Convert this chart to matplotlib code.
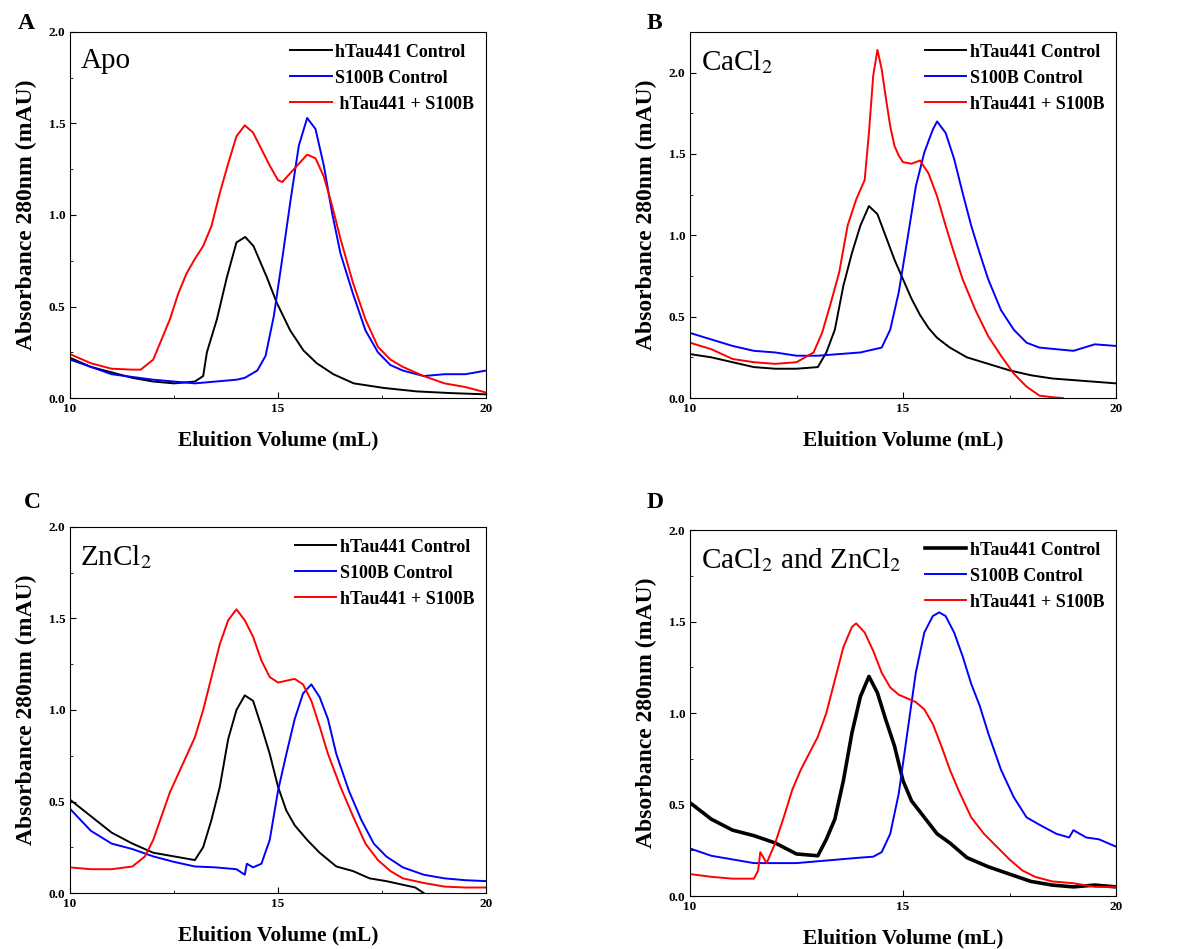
import numpy as np
import matplotlib
matplotlib.use("Agg")
from matplotlib import pyplot as plt
from matplotlib.ticker import MultipleLocator

plt.rcParams["font.family"] = ["Liberation Serif", "DejaVu Serif"]
plt.rcParams["mathtext.fontset"] = "stix"

labels = ["hTau441 Control", "S100B Control", "hTau441 + S100B"]
colors = ["black", "blue", "red"]

# ---- Panel A: Apo ----
a_black_x = [10, 10.5, 11, 11.5, 12, 12.5, 13, 13.2, 13.29, 13.53, 13.77, 14.0, 14.21, 14.41, 14.73, 14.97,
             15.29, 15.61, 15.93, 16.33, 16.82, 17.54, 18.34, 19.14, 20]
a_black_y = [0.22, 0.17, 0.14, 0.11, 0.09, 0.08, 0.09, 0.12, 0.25, 0.43, 0.66, 0.85, 0.88, 0.83, 0.66, 0.52,
             0.37, 0.26, 0.19, 0.13, 0.08, 0.055, 0.036, 0.027, 0.02]
a_blue_x = [10, 11, 12, 13, 14, 14.2, 14.5, 14.7, 14.9, 15.1, 15.3, 15.5, 15.7, 15.9, 16.1, 16.3, 16.5,
            16.8, 17.1, 17.4, 17.7, 18.0, 18.5, 19, 19.5, 20]
a_blue_y = [0.21, 0.13, 0.10, 0.08, 0.10, 0.11, 0.15, 0.23, 0.45, 0.76, 1.08, 1.38, 1.53, 1.47, 1.27, 1.01, 0.79,
            0.57, 0.37, 0.25, 0.18, 0.15, 0.12, 0.13, 0.13, 0.15]
a_red_x = [10, 10.5, 11, 11.5, 11.7, 12.0, 12.2, 12.4, 12.6, 12.8, 13.0, 13.2, 13.4, 13.6, 13.8, 14.0, 14.2,
           14.4, 14.6, 14.8, 15.0, 15.1, 15.3, 15.5, 15.7, 15.9, 16.1, 16.3, 16.5, 16.8, 17.1, 17.4, 17.7,
           18.0, 18.5, 19, 19.5, 20]
a_red_y = [0.24, 0.19, 0.16, 0.155, 0.155, 0.21, 0.32, 0.43, 0.57, 0.68, 0.76, 0.83, 0.94, 1.12, 1.28, 1.43, 1.49,
           1.45, 1.36, 1.27, 1.19, 1.18, 1.23, 1.28, 1.33, 1.31, 1.21, 1.05, 0.87, 0.63, 0.43, 0.28, 0.21,
           0.17, 0.12, 0.08, 0.06, 0.03]

# ---- Panel B: CaCl2 ----
b_black_x = [10, 10.5, 11, 11.5, 12, 12.5, 13, 13.2, 13.4, 13.6, 13.8, 14.0, 14.2, 14.4, 14.6, 14.8, 15.0,
             15.2, 15.4, 15.6, 15.8, 16.1, 16.5, 17, 17.5, 18, 18.5, 19, 19.5, 20]
b_black_y = [0.27, 0.25, 0.22, 0.19, 0.18, 0.18, 0.19, 0.28, 0.42, 0.69, 0.89, 1.06, 1.18, 1.13, 0.99, 0.85, 0.73,
             0.61, 0.51, 0.43, 0.37, 0.31, 0.25, 0.21, 0.17, 0.14, 0.12, 0.11, 0.10, 0.09]
b_blue_x = [10, 10.5, 11, 11.5, 12, 12.5, 13, 13.5, 14, 14.5, 14.7, 14.9, 15.1, 15.3, 15.5, 15.7, 15.8, 16.0,
            16.2, 16.4, 16.6, 16.8, 17.0, 17.3, 17.6, 17.9, 18.2, 18.6, 19, 19.5, 20]
b_blue_y = [0.40, 0.36, 0.32, 0.29, 0.28, 0.26, 0.26, 0.27, 0.28, 0.31, 0.42, 0.65, 0.97, 1.30, 1.51, 1.65, 1.70,
            1.63, 1.47, 1.26, 1.06, 0.89, 0.73, 0.54, 0.42, 0.34, 0.31, 0.30, 0.29, 0.33, 0.32]
b_red_x = [10, 10.5, 11, 11.5, 12, 12.5, 12.9, 13.1, 13.3, 13.5, 13.7, 13.9, 14.1, 14.2, 14.3, 14.4, 14.5, 14.6,
           14.7, 14.8, 14.9, 15.0, 15.2, 15.4, 15.6, 15.8, 16.0, 16.2, 16.4, 16.7, 17.0, 17.3, 17.6, 17.9,
           18.2, 18.5, 18.75]
b_red_y = [0.34, 0.30, 0.24, 0.22, 0.21, 0.22, 0.28, 0.40, 0.58, 0.77, 1.06, 1.22, 1.34, 1.63, 1.98, 2.14, 2.02, 1.84,
           1.67, 1.55, 1.49, 1.45, 1.44, 1.46, 1.38, 1.24, 1.06, 0.89, 0.73, 0.54, 0.38, 0.26, 0.15, 0.07,
           0.015, 0.005, 0.0]

# ---- Panel C: ZnCl2 ----
c_black_x = [10, 10.5, 11, 11.5, 12, 12.5, 13, 13.2, 13.4, 13.6, 13.8, 14.0, 14.2, 14.4, 14.6, 14.8, 15.0,
             15.2, 15.4, 15.7, 16.0, 16.4, 16.8, 17.2, 17.6, 18.0, 18.3, 18.5]
c_black_y = [0.51, 0.42, 0.33, 0.27, 0.22, 0.20, 0.18, 0.25, 0.40, 0.58, 0.84, 1.00, 1.08, 1.05, 0.91, 0.76, 0.58,
             0.45, 0.37, 0.29, 0.22, 0.145, 0.12, 0.08, 0.065, 0.045, 0.03, 0.0]
c_blue_x = [10, 10.5, 11, 11.5, 12, 12.5, 13, 13.5, 14.0, 14.2, 14.25, 14.4, 14.6, 14.8, 15.0, 15.2, 15.4,
            15.6, 15.8, 16.0, 16.2, 16.4, 16.7, 17.0, 17.3, 17.6, 18.0, 18.5, 19, 19.5, 20]
c_blue_y = [0.46, 0.34, 0.27, 0.24, 0.20, 0.17, 0.145, 0.14, 0.13, 0.10, 0.16, 0.14, 0.16, 0.29, 0.56, 0.76, 0.95,
            1.09, 1.14, 1.07, 0.95, 0.76, 0.56, 0.40, 0.27, 0.20, 0.14, 0.10, 0.08, 0.07, 0.065]
c_red_x = [10, 10.5, 11, 11.5, 11.8, 12.0, 12.2, 12.4, 12.6, 12.8, 13.0, 13.2, 13.4, 13.6, 13.8, 14.0, 14.2,
           14.4, 14.6, 14.8, 15.0, 15.2, 15.4, 15.6, 15.8, 16.0, 16.2, 16.5, 16.8, 17.1, 17.4, 17.7, 18.0,
           18.5, 19, 19.5, 20]
c_red_y = [0.14, 0.13, 0.13, 0.145, 0.20, 0.29, 0.42, 0.55, 0.65, 0.75, 0.85, 1.00, 1.18, 1.36, 1.49, 1.55, 1.49,
           1.40, 1.27, 1.18, 1.15, 1.16, 1.17, 1.14, 1.05, 0.91, 0.76, 0.58, 0.42, 0.27, 0.18, 0.12, 0.08,
           0.055, 0.035, 0.03, 0.03]

# ---- Panel D: CaCl2 and ZnCl2 ----
d_black_x = [10, 10.5, 11, 11.5, 12, 12.5, 13, 13.2, 13.4, 13.6, 13.8, 14.0, 14.2, 14.4, 14.6, 14.8, 15.0,
             15.2, 15.5, 15.8, 16.1, 16.5, 17, 17.5, 18, 18.5, 19, 19.5, 20]
d_black_y = [0.51, 0.42, 0.36, 0.33, 0.29, 0.23, 0.22, 0.31, 0.42, 0.63, 0.89, 1.09, 1.20, 1.11, 0.96, 0.82, 0.63,
             0.52, 0.43, 0.34, 0.29, 0.21, 0.16, 0.12, 0.08, 0.06, 0.05, 0.06, 0.05]
d_blue_x = [10, 10.5, 11, 11.5, 12, 12.5, 13, 13.5, 14, 14.3, 14.5, 14.7, 14.9, 15.1, 15.3, 15.5, 15.7,
            15.85, 16.0, 16.2, 16.4, 16.6, 16.8, 17.0, 17.3, 17.6, 17.9, 18.2, 18.6, 18.9, 19.0, 19.3, 19.6, 20]
d_blue_y = [0.26, 0.22, 0.20, 0.18, 0.18, 0.18, 0.19, 0.20, 0.21, 0.215, 0.24, 0.34, 0.56, 0.89, 1.22, 1.44, 1.53,
            1.55, 1.53, 1.44, 1.31, 1.16, 1.04, 0.89, 0.69, 0.54, 0.43, 0.39, 0.34, 0.32, 0.36, 0.32, 0.31, 0.27]
d_red_x = [10, 10.5, 11, 11.5, 11.6, 11.65, 11.8, 12.0, 12.2, 12.4, 12.6, 12.8, 13.0, 13.2, 13.4, 13.6, 13.8,
           13.9, 14.1, 14.3, 14.5, 14.7, 14.9, 15.1, 15.3, 15.5, 15.7, 15.9, 16.1, 16.3, 16.6, 16.9, 17.2,
           17.5, 17.8, 18.1, 18.5, 19, 19.5, 20]
d_red_y = [0.12, 0.105, 0.095, 0.095, 0.14, 0.24, 0.18, 0.29, 0.43, 0.58, 0.69, 0.78, 0.87, 1.00, 1.18, 1.36, 1.47,
           1.49, 1.44, 1.34, 1.22, 1.14, 1.10, 1.08, 1.06, 1.02, 0.94, 0.82, 0.69, 0.58, 0.43, 0.34, 0.27,
           0.20, 0.14, 0.105, 0.08, 0.07, 0.05, 0.05]

panels = [
    ("A", "Apo", 2.0, [(a_black_x, a_black_y), (a_blue_x, a_blue_y), (a_red_x, a_red_y)]),
    ("B", r"CaCl$_2$", 2.25, [(b_black_x, b_black_y), (b_blue_x, b_blue_y), (b_red_x, b_red_y)]),
    ("C", r"ZnCl$_2$", 2.0, [(c_black_x, c_black_y), (c_blue_x, c_blue_y), (c_red_x, c_red_y)]),
    ("D", r"CaCl$_2$ and ZnCl$_2$", 2.0, [(d_black_x, d_black_y), (d_blue_x, d_blue_y), (d_red_x, d_red_y)]),
]

# axes rectangles in figure fractions (left, bottom, width, height)
rects = [
    (0.059, 0.5806, 0.3505, 0.3857),
    (0.5813, 0.5806, 0.3589, 0.3857),
    (0.059, 0.059, 0.3505, 0.3857),
    (0.5813, 0.0558, 0.3589, 0.3857),
]
letter_pos = [(0.015, 0.975), (0.545, 0.975), (0.02, 0.47), (0.545, 0.47)]

fig = plt.figure(figsize=(11.87, 9.49), dpi=100)

for (letter, tag, ymax, series), rect, lp in zip(panels, rects, letter_pos):
    ax = fig.add_axes(rect)
    for (x, y), c, lab in zip(series, colors, labels):
        lw = 2.6 if (letter == "D" and c == "black") else 1.4
        # panel A's red entry is offset by a space in the original
        if letter == "A" and c == "red":
            lab = " " + lab
        ax.plot(x, y, color=c, lw=lw, label=lab)

    ax.set_xlim(10, 20)
    ax.set_ylim(0, ymax)
    ax.xaxis.set_major_locator(MultipleLocator(5))
    ax.xaxis.set_minor_locator(MultipleLocator(2.5))
    ax.yaxis.set_major_locator(MultipleLocator(0.5))
    ax.yaxis.set_minor_locator(MultipleLocator(0.25))
    ax.tick_params(which="both", direction="in", labelsize=9.5)
    ax.tick_params(which="major", length=4)
    ax.tick_params(which="minor", length=2.5)
    for t in ax.get_xticklabels() + ax.get_yticklabels():
        t.set_fontweight("bold")

    ax.set_xlabel("Eluition Volume (mL)", fontsize=15.5, fontweight="bold", labelpad=11)
    ax.set_ylabel("Absorbance 280nm (mAU)", fontsize=17, fontweight="bold", labelpad=8)

    ax.text(0.025, 0.955, tag, transform=ax.transAxes, fontsize=21, va="top", ha="left")

    ax.legend(loc="upper right", frameon=False, handlelength=2.3, handletextpad=0.2,
              labelspacing=0.5, borderaxespad=0.25, prop={"weight": "bold", "size": 13})

    fig.text(lp[0], lp[1], letter, fontsize=17, fontweight="bold", va="center")

fig.savefig("out.png", dpi=100)
